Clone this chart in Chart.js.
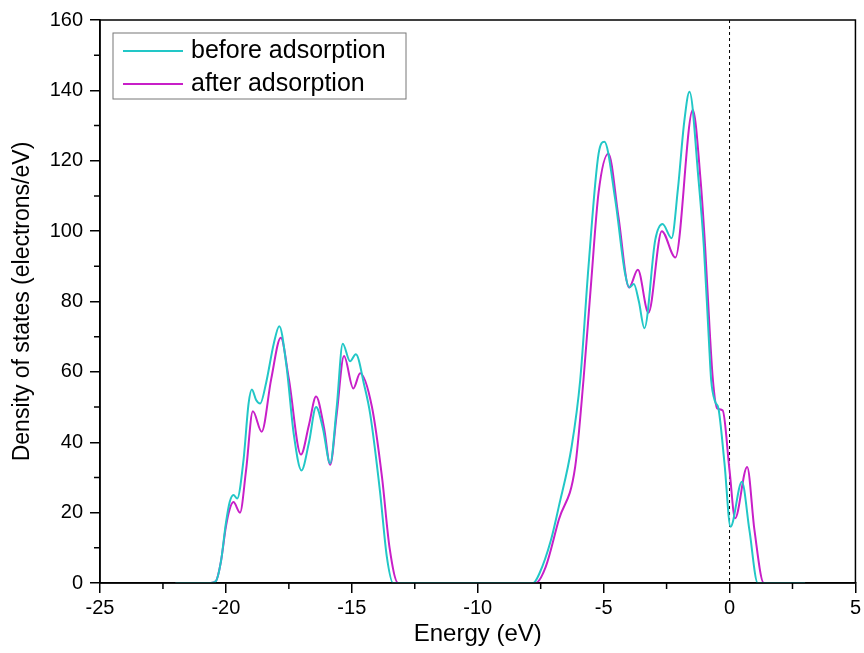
<!DOCTYPE html>
<html>
<head>
<meta charset="utf-8">
<script src="https://cdn.jsdelivr.net/npm/chart.js@4/dist/chart.umd.min.js"></script>
<style>
  html, body { margin: 0; padding: 0; background: #fff; }
  #wrap { width: 864px; height: 653px; }
</style>
</head>
<body>
<div id="wrap"><canvas id="dosChart" width="864" height="653"></canvas></div>
<script>
// ---------------- Data ----------------
const seriesLabels = ["before adsorption", "after adsorption"];

const beforeEnergy = [-22, -20.6, -20.4, -20.2, -20.0, -19.85, -19.7, -19.55, -19.3, -19.1, -18.97, -18.8, -18.64, -18.4, -18.1, -17.88, -17.6, -17.3, -17.0, -16.7, -16.42, -16.15, -15.86, -15.6, -15.36, -15.07, -14.84, -14.5, -14.27, -13.88, -13.61, -13.36, -12, -7.8, -7.55, -7.1, -6.78, -6.27, -5.93, -5.6, -5.2, -4.97, -4.54, -4.15, -3.97, -3.8, -3.6, -3.38, -2.95, -2.66, -2.3, -2.05, -1.8, -1.59, -1.23, -1.02, -0.82, -0.73, -0.57, -0.44, -0.2, 0.04, 0.49, 0.79, 1.12, 3];
const beforeDos = [0, 0, 0.5, 6, 17, 23, 25, 24, 35, 51, 55, 52, 51, 57, 68, 73, 62, 42, 32, 40, 50, 44, 34, 50, 68, 63, 65, 56, 48, 26, 7.5, 0, 0, 0, 2.7, 12, 21.7, 38.8, 57.7, 90, 122, 125.4, 109, 88, 84, 85, 80, 72.4, 97.5, 102, 98, 112, 131, 139.6, 114.5, 95.6, 69, 57.7, 51.5, 49.6, 34, 16, 28.8, 15, 0, 0];

const afterEnergy = [-22, -20.6, -20.4, -20.2, -20.0, -19.85, -19.7, -19.44, -19.2, -18.93, -18.58, -18.2, -17.82, -17.5, -17.02, -16.7, -16.42, -16.1, -15.86, -15.6, -15.31, -14.94, -14.67, -14.2, -13.8, -13.5, -13.16, -12, -7.7, -7.3, -6.78, -6.13, -5.8, -5.5, -5.2, -4.81, -4.41, -3.99, -3.64, -3.22, -2.69, -2.15, -1.46, -1.15, -0.97, -0.79, -0.66, -0.49, -0.27, 0, 0.22, 0.7, 0.99, 1.36, 3];
const afterDos = [0, 0, 0.5, 6, 16, 21, 23, 20, 32, 48.8, 43, 58, 69.7, 58, 36.5, 45, 53, 44, 33.6, 48, 64.5, 55.3, 59.6, 50, 30, 10, 0, 0, 0, 4.6, 18, 33, 57.7, 85, 111, 122, 104, 84, 89, 76.8, 100, 92.5, 134.4, 114.5, 95.6, 72, 57.7, 49.6, 49, 32, 18.4, 33, 15, 0, 0];

const xTicksMinor = [-22.5, -17.5, -12.5, -7.5, -2.5, 2.5];
const yTicksMinor = [10, 30, 50, 70, 90, 110, 130, 150];
const fermiLevel = 0;

const FONT = "'Liberation Sans', Arial, sans-serif";

function toPoints(xs, ys) {
  return xs.map((x, i) => ({ x: x, y: ys[i] }));
}

// ---------------- Plugins ----------------
const frameAndMarks = {
  id: "frameAndMarks",
  beforeDatasetsDraw(chart) {
    const { ctx, chartArea: a, scales: { x } } = chart;
    // dashed line at Fermi level
    const px = x.getPixelForValue(fermiLevel);
    ctx.save();
    ctx.strokeStyle = "#000";
    ctx.lineWidth = 1;
    ctx.setLineDash([3, 3]);
    ctx.beginPath();
    ctx.moveTo(px, a.top);
    ctx.lineTo(px, a.bottom);
    ctx.stroke();
    ctx.restore();
  },
  afterDraw(chart) {
    const { ctx, chartArea: a, scales: { x, y } } = chart;
    ctx.save();
    ctx.strokeStyle = "#000";
    ctx.lineWidth = 1.5;
    ctx.strokeRect(a.left, a.top, a.right - a.left, a.bottom - a.top);
    // minor ticks
    ctx.beginPath();
    xTicksMinor.forEach(v => {
      const p = x.getPixelForValue(v);
      ctx.moveTo(p, a.bottom);
      ctx.lineTo(p, a.bottom + 6);
    });
    yTicksMinor.forEach(v => {
      const p = y.getPixelForValue(v);
      ctx.moveTo(a.left, p);
      ctx.lineTo(a.left - 6, p);
    });
    ctx.stroke();

    // legend box inside plot
    const lx = 113, ly = 33, lw = 293, lh = 66;
    ctx.strokeStyle = "#777";
    ctx.lineWidth = 1;
    ctx.strokeRect(lx, ly, lw, lh);
    ctx.font = "25px " + FONT;
    ctx.textBaseline = "middle";
    ctx.fillStyle = "#000";
    chart.data.datasets.forEach((ds, i) => {
      const rowY = ly + 18 + i * 33;
      ctx.strokeStyle = ds.borderColor;
      ctx.lineWidth = 2;
      ctx.beginPath();
      ctx.moveTo(lx + 10, rowY);
      ctx.lineTo(lx + 70, rowY);
      ctx.stroke();
      ctx.fillText(ds.label, lx + 78, rowY);
    });
    ctx.restore();
  }
};

// ---------------- Chart ----------------
const ctx = document.getElementById("dosChart").getContext("2d");

const dosChart = new Chart(ctx, {
  type: "line",
  data: {
    datasets: [
      {
        label: seriesLabels[0],
        data: toPoints(beforeEnergy, beforeDos),
        borderColor: "#22c7c7",
        borderWidth: 2,
        pointRadius: 0,
        cubicInterpolationMode: "monotone",
        fill: false
      },
      {
        label: seriesLabels[1],
        data: toPoints(afterEnergy, afterDos),
        borderColor: "#c81fc8",
        borderWidth: 2,
        pointRadius: 0,
        cubicInterpolationMode: "monotone",
        fill: false
      }
    ]
  },
  options: {
    responsive: false,
    animation: false,
    layout: { padding: { top: 20, right: 8, left: 0, bottom: 0 } },
    plugins: {
      legend: { display: false },
      tooltip: { enabled: false }
    },
    scales: {
      x: {
        type: "linear",
        min: -25,
        max: 5,
        afterFit: s => { s.height = 70; },
        ticks: {
          stepSize: 5,
          color: "#000",
          padding: 3,
          maxRotation: 0,
          font: { family: FONT, size: 20 }
        },
        grid: { drawOnChartArea: false, drawTicks: true, tickLength: 10, color: "#000", lineWidth: 1.5 },
        border: { display: true, color: "#000", width: 1.5 },
        title: {
          display: true,
          text: "Energy (eV)",
          color: "#000",
          font: { family: FONT, size: 24 },
          padding: { top: 0, bottom: 4 }
        }
      },
      y: {
        min: 0,
        max: 160,
        afterFit: s => { s.width = 100; },
        ticks: {
          stepSize: 20,
          color: "#000",
          padding: 7,
          font: { family: FONT, size: 20 }
        },
        grid: { drawOnChartArea: false, drawTicks: true, tickLength: 10, color: "#000", lineWidth: 1.5 },
        border: { display: true, color: "#000", width: 1.5 },
        title: {
          display: true,
          text: "Density of states (electrons/eV)",
          color: "#000",
          font: { family: FONT, size: 23 },
          padding: { top: 9, bottom: 0 }
        }
      }
    }
  },
  plugins: [frameAndMarks]
});
</script>
</body>
</html>
